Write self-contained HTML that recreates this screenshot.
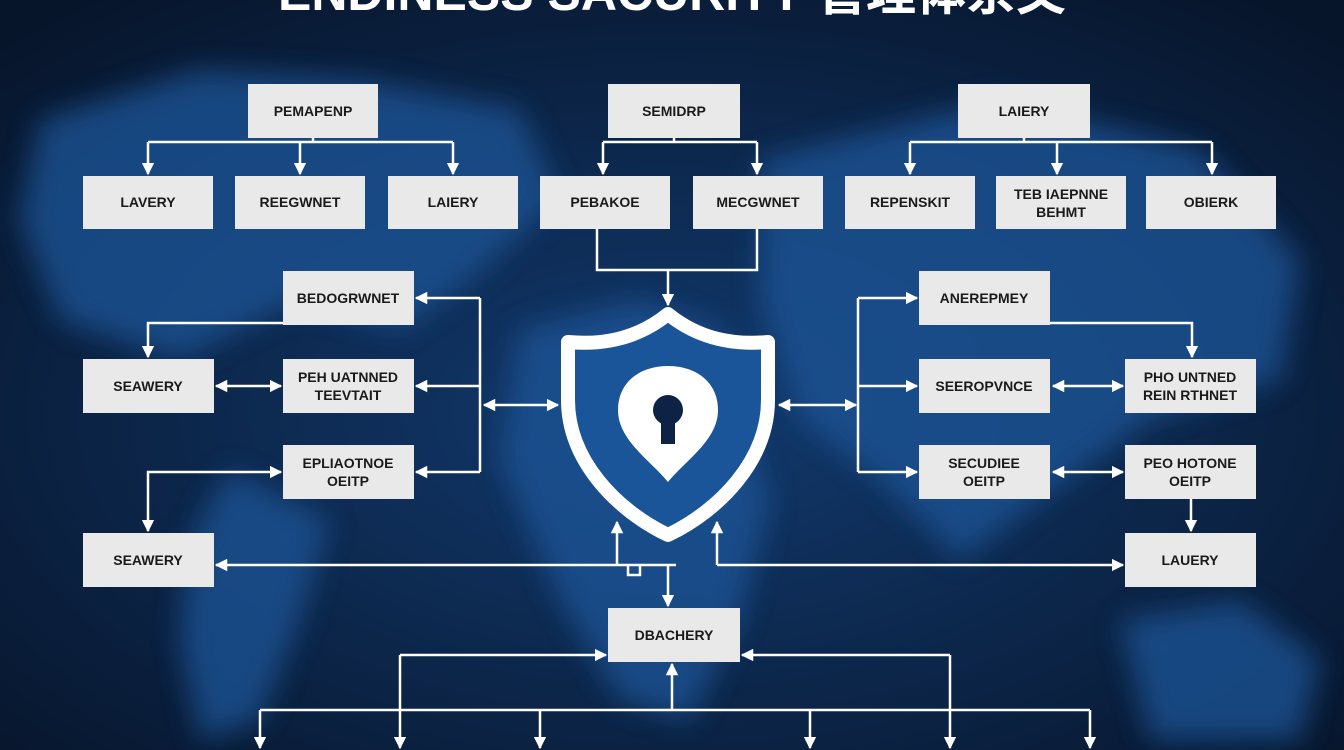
<!DOCTYPE html>
<html><head><meta charset="utf-8"><style>
html,body{margin:0;padding:0;width:1344px;height:750px;overflow:hidden;background:#0a1a33}
svg{display:block}
.b{fill:#e9e9e9}
.t{font-family:"Liberation Sans",sans-serif;font-weight:bold;font-size:14px;fill:#1a1a1a;text-anchor:middle}
.l{stroke:#fff;stroke-width:2.5;fill:none}
</style></head><body>
<svg width="1344" height="750" viewBox="0 0 1344 750" xmlns="http://www.w3.org/2000/svg">
<defs>
<marker id="a" viewBox="0 0 10 10" refX="9" refY="5" markerWidth="5" markerHeight="5" orient="auto-start-reverse"><path d="M0,0L10,5L0,10z" fill="#fff"/></marker>
<radialGradient id="bg" cx="50%" cy="55%" r="70%"><stop offset="0" stop-color="#123a6e"/><stop offset="1" stop-color="#07152b"/></radialGradient>
<filter id="bl"><feGaussianBlur stdDeviation="14"/></filter>
</defs>
<rect width="1344" height="750" fill="url(#bg)"/>
<g fill="#1b5597" opacity="0.75" filter="url(#bl)">
<path d="M40,120 L200,70 L360,80 L520,110 L560,200 L470,280 L400,330 L300,300 L180,360 L60,320 L20,220z"/>
<path d="M230,470 L330,520 L300,620 L260,720 L200,740 L180,640 L190,540z"/>
<path d="M520,330 L640,300 L720,330 L740,420 L770,500 L740,620 L690,720 L620,700 L560,600 L500,460z"/>
<path d="M760,160 L1000,100 L1200,150 L1300,260 L1280,380 L1150,420 L1040,500 L960,560 L880,480 L800,420 L760,300z"/>
<path d="M1120,620 L1240,600 L1320,660 L1300,740 L1150,740z"/>
</g>
<text x="672" y="10" font-family="'Liberation Sans','Noto Sans CJK SC',sans-serif" font-weight="bold" font-size="50" fill="#fff" text-anchor="middle">ENDINESS SACURITY 管理体系文</text>

<g class="l">
<path d="M148,142H453M313,138V142"/>
<path d="M148,142V174" marker-end="url(#a)"/><path d="M300,142V174" marker-end="url(#a)"/><path d="M453,142V174" marker-end="url(#a)"/>
<path d="M603,142H757M674,138V142"/>
<path d="M603,142V174" marker-end="url(#a)"/><path d="M757,142V174" marker-end="url(#a)"/>
<path d="M910,142H1212M1024,138V142"/>
<path d="M910,142V174" marker-end="url(#a)"/><path d="M1057,142V174" marker-end="url(#a)"/><path d="M1212,142V174" marker-end="url(#a)"/>
<path d="M597,229V270H757V229"/>
<path d="M668,270V305" marker-end="url(#a)"/>
<path d="M480,298V472"/>
<path d="M480,298H416" marker-end="url(#a)"/><path d="M480,386H416" marker-end="url(#a)"/><path d="M480,472H416" marker-end="url(#a)"/>
<path d="M484,405H558" marker-start="url(#a)" marker-end="url(#a)"/>
<path d="M283,323H148V357" marker-end="url(#a)"/>
<path d="M216,386H281" marker-start="url(#a)" marker-end="url(#a)"/>
<path d="M281,472H148V531" marker-start="url(#a)" marker-end="url(#a)"/>
<path d="M676,565H216" marker-end="url(#a)"/>
<path d="M617,565V522" marker-end="url(#a)"/>
<path d="M628,565V575H640V565"/>
<path d="M668,565V606" marker-end="url(#a)"/>
<path d="M717,565H1123" marker-end="url(#a)"/>
<path d="M717,565V522" marker-end="url(#a)"/>
<path d="M858,298V472"/>
<path d="M858,298H917" marker-end="url(#a)"/><path d="M858,386H917" marker-end="url(#a)"/><path d="M858,472H917" marker-end="url(#a)"/>
<path d="M779,405H856" marker-start="url(#a)" marker-end="url(#a)"/>
<path d="M1050,323H1192V357" marker-end="url(#a)"/>
<path d="M1053,386H1123" marker-start="url(#a)" marker-end="url(#a)"/>
<path d="M1053,472H1123" marker-start="url(#a)" marker-end="url(#a)"/>
<path d="M1191,499V531" marker-end="url(#a)"/>
<path d="M400,655H606" marker-end="url(#a)"/>
<path d="M950,655H742" marker-end="url(#a)"/>
<path d="M672,710V664" marker-end="url(#a)"/>
<path d="M260,710H1090"/>
<path d="M400,655V748" marker-end="url(#a)"/><path d="M950,655V748" marker-end="url(#a)"/>
<path d="M260,710V748" marker-end="url(#a)"/><path d="M540,710V748" marker-end="url(#a)"/>
<path d="M810,710V748" marker-end="url(#a)"/><path d="M1090,710V748" marker-end="url(#a)"/>
</g>

<path d="M668,314 C700,340 735,345 768,342 L768,400 C768,460 720,510 668,535 C616,510 568,460 568,400 L568,342 C601,345 636,340 668,314z" fill="#1a5599" stroke="#fff" stroke-width="14" stroke-linejoin="round"/>
<path d="M668,482 C650,460 618,440 618,410 C618,382 640,366 668,366 C696,366 718,382 718,410 C718,440 686,460 668,482z" fill="#fff"/>
<circle cx="668" cy="410" r="15" fill="#0d2244"/>
<rect x="661" y="414" width="14" height="30" fill="#0d2244"/>

<g>
<rect class="b" x="248" y="84" width="130" height="54"/><text class="t" x="313" y="116">PEMAPENP</text>
<rect class="b" x="608" y="84" width="132" height="54"/><text class="t" x="674" y="116">SEMIDRP</text>
<rect class="b" x="958" y="84" width="132" height="54"/><text class="t" x="1024" y="116">LAIERY</text>
<rect class="b" x="83" y="176" width="130" height="53"/><text class="t" x="148" y="207">LAVERY</text>
<rect class="b" x="235" y="176" width="130" height="53"/><text class="t" x="300" y="207">REEGWNET</text>
<rect class="b" x="388" y="176" width="130" height="53"/><text class="t" x="453" y="207">LAIERY</text>
<rect class="b" x="540" y="176" width="130" height="53"/><text class="t" x="605" y="207">PEBAKOE</text>
<rect class="b" x="693" y="176" width="130" height="53"/><text class="t" x="758" y="207">MECGWNET</text>
<rect class="b" x="845" y="176" width="130" height="53"/><text class="t" x="910" y="207">REPENSKIT</text>
<rect class="b" x="996" y="176" width="130" height="53"/><text class="t" x="1061" y="199">TEB IAEPNNE</text><text class="t" x="1061" y="217">BEHMT</text>
<rect class="b" x="1146" y="176" width="130" height="53"/><text class="t" x="1211" y="207">OBIERK</text>
<rect class="b" x="283" y="271" width="131" height="54"/><text class="t" x="348" y="303">BEDOGRWNET</text>
<rect class="b" x="83" y="359" width="131" height="54"/><text class="t" x="148" y="391">SEAWERY</text>
<rect class="b" x="283" y="359" width="131" height="54"/><text class="t" x="348" y="382">PEH UATNNED</text><text class="t" x="348" y="400">TEEVTAIT</text>
<rect class="b" x="283" y="445" width="131" height="54"/><text class="t" x="348" y="468">EPLIAOTNOE</text><text class="t" x="348" y="486">OEITP</text>
<rect class="b" x="83" y="533" width="131" height="54"/><text class="t" x="148" y="565">SEAWERY</text>
<rect class="b" x="919" y="271" width="131" height="54"/><text class="t" x="984" y="303">ANEREPMEY</text>
<rect class="b" x="919" y="359" width="131" height="54"/><text class="t" x="984" y="391">SEEROPVNCE</text>
<rect class="b" x="1125" y="359" width="131" height="54"/><text class="t" x="1190" y="382">PHO UNTNED</text><text class="t" x="1190" y="400">REIN RTHNET</text>
<rect class="b" x="919" y="445" width="131" height="54"/><text class="t" x="984" y="468">SECUDIEE</text><text class="t" x="984" y="486">OEITP</text>
<rect class="b" x="1125" y="445" width="131" height="54"/><text class="t" x="1190" y="468">PEO HOTONE</text><text class="t" x="1190" y="486">OEITP</text>
<rect class="b" x="1125" y="533" width="131" height="54"/><text class="t" x="1190" y="565">LAUERY</text>
<rect class="b" x="608" y="608" width="132" height="54"/><text class="t" x="674" y="640">DBACHERY</text>
</g>
</svg>
</body></html>
